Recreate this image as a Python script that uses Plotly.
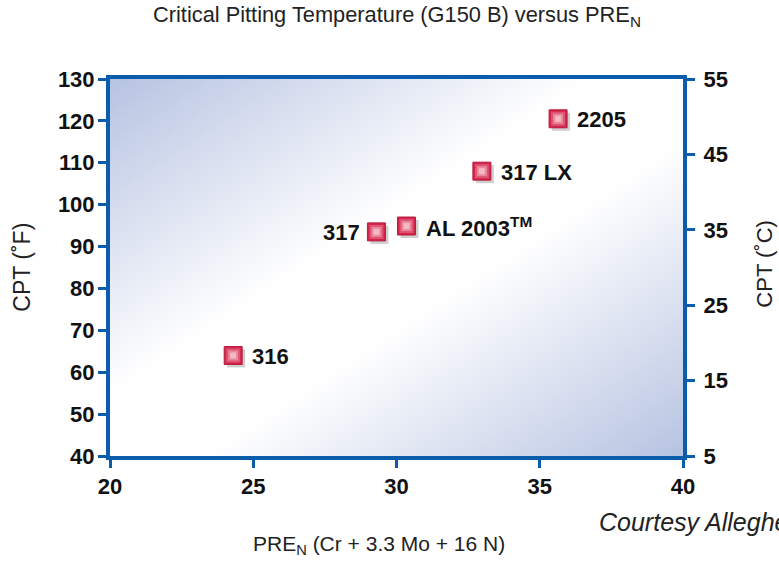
import base64
import plotly.graph_objects as go

# ---- data ----
alloys = ["316", "317", "AL 2003<sup>TM</sup>", "317 LX", "2205"]
pren = [24.3, 29.3, 30.35, 32.98, 35.64]
cpt_f = [64.0, 93.5, 94.9, 108.0, 120.5]
label_side = ["right", "left", "right", "right", "right"]

x_ticks = [20, 25, 30, 35, 40]
yf_ticks = [40, 50, 60, 70, 80, 90, 100, 110, 120, 130]
yc_ticks = [5, 15, 25, 35, 45, 55]

FONT = "Liberation Sans, Arial, sans-serif"
AXIS_BLUE = "#0b5cad"
BG_BLUE = "#b6c3e1"

# ---- background gradient as an inline SVG image ----
svg = f'''<svg xmlns="http://www.w3.org/2000/svg" width="100" height="100" viewBox="0 0 100 100" preserveAspectRatio="none">
<defs><linearGradient id="g" x1="0" y1="0" x2="1" y2="1">
<stop offset="0" stop-color="{BG_BLUE}"/>
<stop offset="0.42" stop-color="#ffffff"/>
<stop offset="0.58" stop-color="#ffffff"/>
<stop offset="1" stop-color="{BG_BLUE}"/>
</linearGradient></defs>
<rect x="0" y="0" width="100" height="100" fill="url(#g)"/></svg>'''
src = "data:image/svg+xml;base64," + base64.b64encode(svg.encode()).decode()

fig = go.Figure()

# shadow (offset a few pixels to the lower right)
px_x = 20 / 573.0
px_y = 90 / 377.0
fig.add_trace(go.Scatter(
    x=[v + 3 * px_x for v in pren], y=[v - 3 * px_y for v in cpt_f],
    mode="markers", hoverinfo="skip", showlegend=False,
    marker=dict(symbol="square", size=18, color="#cfcfcf", line=dict(width=0))))

# layered square markers for a bevelled look
for size, col in [(18, "#d3244b"), (14, "#df5473"), (10, "#e9879b"), (6, "#f3b9c4")]:
    fig.add_trace(go.Scatter(
        x=pren, y=cpt_f, mode="markers", showlegend=False,
        hoverinfo="skip" if size != 18 else None,
        marker=dict(symbol="square", size=size, color=col,
                    line=dict(width=1 if size == 18 else 0, color="#b81d3f"))))

# invisible trace for the right axis
fig.add_trace(go.Scatter(x=[20, 40], y=[5, 55], yaxis="y2", mode="markers",
                         marker=dict(opacity=0), hoverinfo="skip", showlegend=False))

for name, xv, yv, side in zip(alloys, pren, cpt_f, label_side):
    fig.add_annotation(
        x=xv, y=yv, xref="x", yref="y", text=f"<b>{name}</b>", showarrow=False,
        xanchor="left" if side == "right" else "right", yanchor="middle",
        xshift=17 if side == "right" else -14, yshift=-1,
        font=dict(family=FONT, size=22, color="#111111"))

fig.add_layout_image(dict(source=src, xref="paper", yref="paper", x=0, y=1,
                          sizex=1, sizey=1, sizing="stretch", layer="below",
                          xanchor="left", yanchor="top"))

axis_common = dict(
    showline=True, linecolor=AXIS_BLUE, linewidth=4,
    ticks="outside", ticklen=8, tickwidth=3, tickcolor=AXIS_BLUE,
    showgrid=False, zeroline=False,
)

fig.update_layout(
    width=779, height=562,
    margin=dict(l=110, r=96, t=79, b=106),
    paper_bgcolor="white", plot_bgcolor="rgba(0,0,0,0)",
    font=dict(family=FONT, size=22, color="#111111"),
    xaxis=dict(range=[20, 40], tickvals=x_ticks,
               ticktext=[f"<b>{v}</b>" for v in x_ticks], mirror=True,
               ticklabelstandoff=0, **axis_common),
    yaxis=dict(range=[40, 130], tickvals=yf_ticks,
               ticktext=[f"<b>{v}</b>" for v in yf_ticks], ticklabelstandoff=-1,
               **axis_common),
    yaxis2=dict(range=[5, 55], tickvals=yc_ticks,
                ticktext=[f"<b>{v}</b>" for v in yc_ticks],
                overlaying="y", side="right", ticklabelstandoff=4, **axis_common),
)
for upd in (fig.update_xaxes, fig.update_yaxes):
    upd(tickfont_size=22, tickfont_family=FONT, tickfont_color="#111111",
        tickfont_weight="bold")

# titles
fig.add_annotation(text="Critical Pitting Temperature (G150 B) versus PRE<sub>N</sub>",
                   xref="paper", yref="paper", x=0.5, y=1, yshift=63, yanchor="middle",
                   showarrow=False, font=dict(family=FONT, size=21.8, color="#222222"))
fig.add_annotation(text="CPT (˚F)", xref="paper", yref="paper", x=-0.155, y=0.5,
                   textangle=-90, showarrow=False, xanchor="center", yanchor="middle",
                   font=dict(family=FONT, size=23, color="#222222"))
fig.add_annotation(text="CPT (˚C)", xref="paper", yref="paper", x=1.143, y=0.51,
                   textangle=-90, showarrow=False, xanchor="center", yanchor="middle",
                   font=dict(family=FONT, size=22, color="#222222"))
fig.add_annotation(text="PRE<sub>N</sub> (Cr + 3.3 Mo + 16 N)", xref="paper", yref="paper",
                   x=0.47, y=0, yshift=-89, showarrow=False, yanchor="middle",
                   font=dict(family=FONT, size=21, color="#222222"))
fig.add_annotation(text="<i>Courtesy Allegheny</i>", xref="paper", yref="paper",
                   x=(597 - 110) / 573.0, y=0, yshift=-66, xanchor="left", yanchor="middle",
                   showarrow=False, font=dict(family=FONT, size=25, color="#222222"))

fig.write_html("out.html", config={"displayModeBar": False},
               post_script="document.body.style.margin='0';")
